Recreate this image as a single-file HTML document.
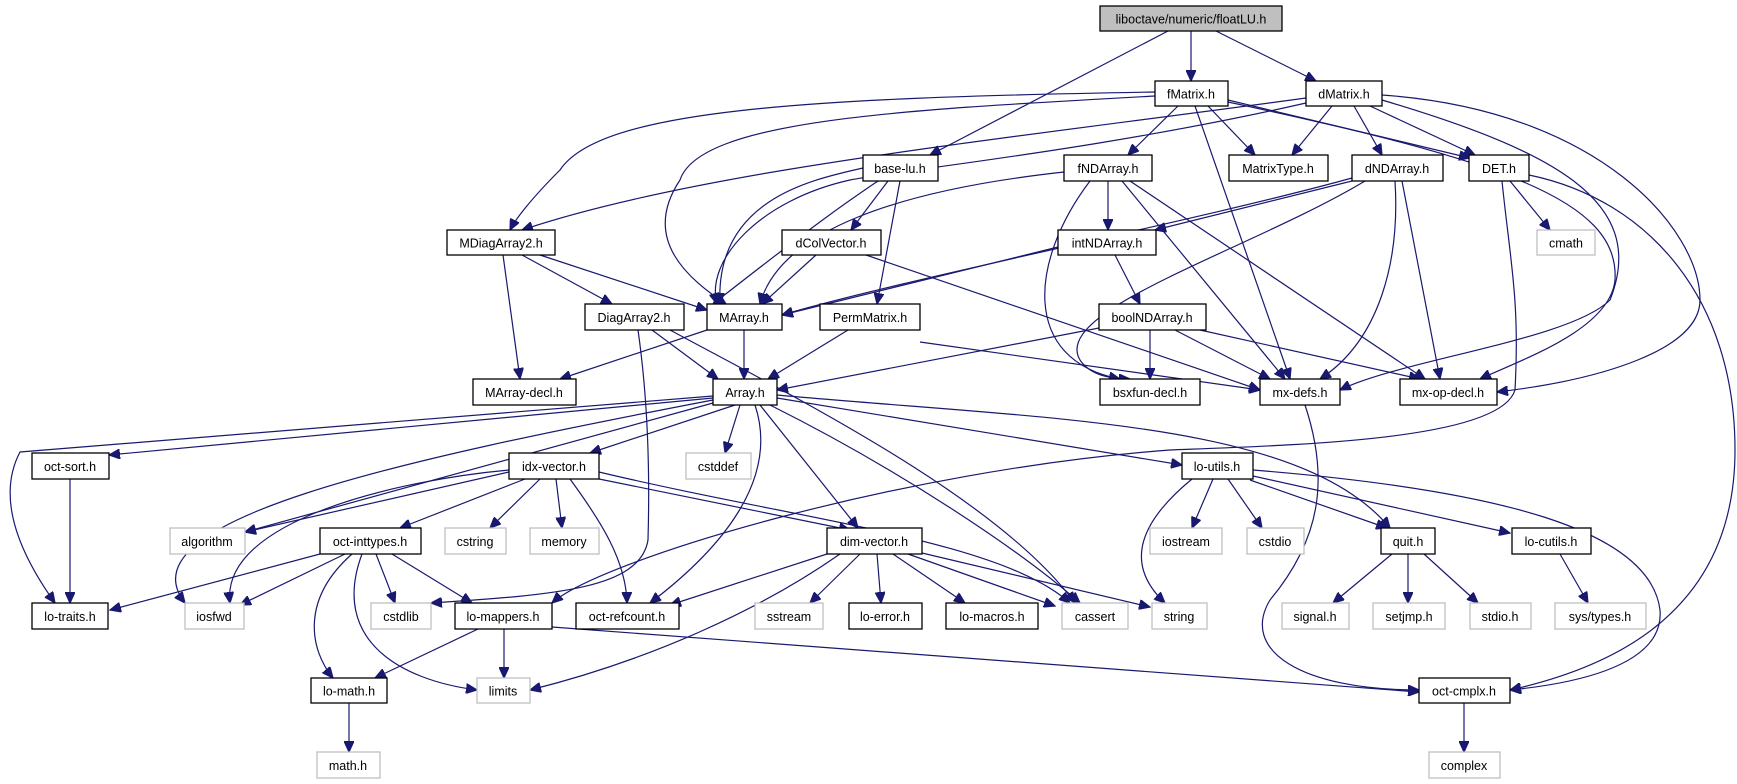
<!DOCTYPE html>
<html><head><meta charset="utf-8"><style>
html,body{margin:0;padding:0;background:#fff;}
svg{display:block;}
text{font-family:"Liberation Sans",sans-serif;font-size:12.5px;text-anchor:middle;fill:#000;}
.b{fill:#fff;stroke:#000;stroke-width:1.3;}
.g{fill:#fff;stroke:#bfbfbf;stroke-width:1.3;}
.r{fill:#bfbfbf;stroke:#000;stroke-width:1.3;}
path{fill:none;stroke:#191970;stroke-width:1.2;marker-end:url(#a);}
</style></head><body>
<svg width="1737" height="784" viewBox="0 0 1737 784" xmlns="http://www.w3.org/2000/svg">
<defs><marker id="a" markerUnits="userSpaceOnUse" markerWidth="12" markerHeight="10" refX="11" refY="5" orient="auto"><path d="M0,0 L11,5 L0,10 Z" style="fill:#191970;stroke:#191970;marker-end:none"/></marker></defs>

<path d="M1168,31 L930,155"/>
<path d="M1191,31 L1191,81"/>
<path d="M1216,31 L1316,81"/>
<path d="M1155,92 C800,98 600,110 560,170 C530,200 515,220 510,230"/>
<path d="M1155,96 C900,110 700,120 680,180 C640,240 690,280 726,304"/>
<path d="M1178,106 L1128,155"/>
<path d="M1208,106 L1255,155"/>
<path d="M1195,106 L1290,379"/>
<path d="M1228,100 L1470,158"/>
<path d="M1228,102 C1500,160 1620,200 1615,280 C1610,330 1520,360 1480,379"/>
<path d="M1306,98 C1000,140 700,170 522,230"/>
<path d="M1306,103 C1100,150 900,170 850,180 C760,200 705,260 717,304"/>
<path d="M1332,106 L1292,155"/>
<path d="M1354,106 L1382,155"/>
<path d="M1370,106 L1475,155"/>
<path d="M1382,95 C1600,110 1700,230 1700,300 C1700,350 1600,380 1497,392"/>
<path d="M1382,100 C1550,150 1650,200 1610,300 C1570,340 1400,360 1340,390"/>
<path d="M863,168 C810,180 715,200 720,304"/>
<path d="M878,181 C850,200 820,220 713,304"/>
<path d="M888,181 L851,230"/>
<path d="M900,181 L877,304"/>
<path d="M1064,172 C900,190 780,230 760,304"/>
<path d="M1108,181 L1108,230"/>
<path d="M1090,181 C1030,260 1020,360 1120,379"/>
<path d="M1122,181 L1285,379"/>
<path d="M1130,181 L1425,379"/>
<path d="M1352,181 L1155,230"/>
<path d="M1352,178 C1200,220 900,280 782,315"/>
<path d="M1365,181 C1250,250 1050,310 1080,360 C1090,375 1110,379 1130,379"/>
<path d="M1395,181 C1400,260 1380,340 1320,379"/>
<path d="M1402,181 L1440,379"/>
<path d="M1510,181 L1550,230"/>
<path d="M1502,181 C1510,260 1520,300 1515,390 C1500,440 1300,445 1170,450 C900,470 600,560 552,603"/>
<path d="M1529,175 C1650,200 1735,300 1735,450 C1735,620 1600,670 1510,690"/>
<path d="M540,255 L707,310"/>
<path d="M522,255 L612,304"/>
<path d="M503,255 L520,379"/>
<path d="M816,255 L762,304"/>
<path d="M866,255 L1260,390"/>
<path d="M1058,247 L782,315"/>
<path d="M1115,255 L1140,304"/>
<path d="M652,330 L718,379"/>
<path d="M670,330 C800,400 1000,500 1075,603"/>
<path d="M638,330 C648,400 650,470 648,540 C640,590 550,595 431,603"/>
<path d="M707,330 L560,379"/>
<path d="M744,330 L744,379"/>
<path d="M848,330 L768,379"/>
<path d="M920,342 L1260,390"/>
<path d="M1099,328 L777,390"/>
<path d="M1150,330 L1150,379"/>
<path d="M1175,330 L1270,379"/>
<path d="M1200,330 L1420,379"/>
<path d="M1305,405 C1330,480 1320,540 1270,600 C1240,650 1300,690 1419,690"/>
<path d="M713,398 L109,455"/>
<path d="M713,396 L20,452 C0,490 10,540 55,603"/>
<path d="M713,400 C400,460 120,520 185,603"/>
<path d="M713,403 L245,532"/>
<path d="M735,405 L590,453"/>
<path d="M740,405 L725,453"/>
<path d="M755,405 C780,480 720,550 650,603"/>
<path d="M760,405 L858,528"/>
<path d="M770,405 C900,470 1020,550 1080,603"/>
<path d="M777,398 L1182,465"/>
<path d="M777,395 C1050,420 1300,420 1390,528"/>
<path d="M509,472 L245,532"/>
<path d="M509,470 C400,480 220,520 230,603"/>
<path d="M525,479 L400,528"/>
<path d="M540,479 L490,528"/>
<path d="M556,479 L562,528"/>
<path d="M570,479 C600,520 626,560 627,603"/>
<path d="M599,479 L850,530"/>
<path d="M599,472 C800,520 1000,540 1070,603"/>
<path d="M320,554 L110,610"/>
<path d="M345,554 L240,605"/>
<path d="M352,554 C300,600 310,650 333,678"/>
<path d="M362,554 C330,640 400,680 477,690"/>
<path d="M376,554 L395,603"/>
<path d="M392,554 L472,603"/>
<path d="M827,554 L670,605"/>
<path d="M840,554 C760,610 650,660 530,690"/>
<path d="M860,554 L810,603"/>
<path d="M877,554 L881,603"/>
<path d="M893,554 L965,603"/>
<path d="M908,554 L1055,606"/>
<path d="M922,553 L1150,607"/>
<path d="M478,629 L375,678"/>
<path d="M504,629 L504,678"/>
<path d="M552,627 L1419,692"/>
<path d="M349,703 L349,752"/>
<path d="M70,479 L70,603"/>
<path d="M1213,479 L1192,528"/>
<path d="M1228,479 L1262,528"/>
<path d="M1250,480 L1387,528"/>
<path d="M1253,476 L1510,533"/>
<path d="M1192,479 C1130,530 1130,570 1165,603"/>
<path d="M1253,470 C1500,490 1650,530 1660,610 C1665,670 1560,685 1510,690"/>
<path d="M1392,554 L1333,603"/>
<path d="M1408,554 L1408,603"/>
<path d="M1424,554 L1478,603"/>
<path d="M1560,554 L1588,603"/>
<path d="M1464,703 L1464,752"/>

<rect class="r" x="1100" y="6" width="182" height="25"/><text x="1191" y="23.5">liboctave/numeric/floatLU.h</text>
<rect class="b" x="1155" y="81" width="73" height="25"/><text x="1191" y="98.5">fMatrix.h</text>
<rect class="b" x="1306" y="81" width="76" height="25"/><text x="1344" y="98.5">dMatrix.h</text>
<rect class="b" x="863" y="155" width="75" height="26"/><text x="900" y="173">base-lu.h</text>
<rect class="b" x="1064" y="155" width="88" height="26"/><text x="1108" y="173">fNDArray.h</text>
<rect class="b" x="1229" y="155" width="99" height="26"/><text x="1278" y="173">MatrixType.h</text>
<rect class="b" x="1352" y="155" width="91" height="26"/><text x="1397" y="173">dNDArray.h</text>
<rect class="b" x="1469" y="155" width="60" height="26"/><text x="1499" y="173">DET.h</text>
<rect class="g" x="1537" y="230" width="58" height="25"/><text x="1566" y="247.5">cmath</text>
<rect class="b" x="1058" y="230" width="98" height="25"/><text x="1107" y="247.5">intNDArray.h</text>
<rect class="b" x="782" y="230" width="99" height="25"/><text x="831" y="247.5">dColVector.h</text>
<rect class="b" x="447" y="230" width="108" height="25"/><text x="501" y="247.5">MDiagArray2.h</text>
<rect class="b" x="585" y="304" width="99" height="26"/><text x="634" y="322">DiagArray2.h</text>
<rect class="b" x="707" y="304" width="75" height="26"/><text x="744" y="322">MArray.h</text>
<rect class="b" x="820" y="304" width="100" height="26"/><text x="870" y="322">PermMatrix.h</text>
<rect class="b" x="1099" y="304" width="107" height="26"/><text x="1152" y="322">boolNDArray.h</text>
<rect class="b" x="473" y="379" width="103" height="26"/><text x="524" y="397">MArray-decl.h</text>
<rect class="b" x="713" y="379" width="64" height="26"/><text x="745" y="397">Array.h</text>
<rect class="b" x="1100" y="379" width="100" height="26"/><text x="1150" y="397">bsxfun-decl.h</text>
<rect class="b" x="1260" y="379" width="80" height="26"/><text x="1300" y="397">mx-defs.h</text>
<rect class="b" x="1400" y="379" width="97" height="26"/><text x="1448" y="397">mx-op-decl.h</text>
<rect class="b" x="32" y="453" width="77" height="26"/><text x="70" y="471">oct-sort.h</text>
<rect class="b" x="509" y="453" width="90" height="26"/><text x="554" y="471">idx-vector.h</text>
<rect class="g" x="686" y="453" width="65" height="26"/><text x="718" y="471">cstddef</text>
<rect class="b" x="1182" y="453" width="71" height="26"/><text x="1217" y="471">lo-utils.h</text>
<rect class="g" x="170" y="528" width="75" height="26"/><text x="207" y="546">algorithm</text>
<rect class="b" x="320" y="528" width="101" height="26"/><text x="370" y="546">oct-inttypes.h</text>
<rect class="g" x="445" y="528" width="61" height="26"/><text x="475" y="546">cstring</text>
<rect class="g" x="530" y="528" width="69" height="26"/><text x="564" y="546">memory</text>
<rect class="b" x="827" y="528" width="95" height="26"/><text x="874" y="546">dim-vector.h</text>
<rect class="g" x="1150" y="528" width="72" height="26"/><text x="1186" y="546">iostream</text>
<rect class="g" x="1247" y="528" width="57" height="26"/><text x="1275" y="546">cstdio</text>
<rect class="b" x="1381" y="528" width="54" height="26"/><text x="1408" y="546">quit.h</text>
<rect class="b" x="1512" y="528" width="79" height="26"/><text x="1551" y="546">lo-cutils.h</text>
<rect class="b" x="32" y="603" width="76" height="26"/><text x="70" y="621">lo-traits.h</text>
<rect class="g" x="185" y="603" width="59" height="26"/><text x="214" y="621">iosfwd</text>
<rect class="g" x="371" y="603" width="60" height="26"/><text x="401" y="621">cstdlib</text>
<rect class="b" x="455" y="603" width="97" height="26"/><text x="503" y="621">lo-mappers.h</text>
<rect class="b" x="576" y="603" width="103" height="26"/><text x="627" y="621">oct-refcount.h</text>
<rect class="g" x="755" y="603" width="68" height="26"/><text x="789" y="621">sstream</text>
<rect class="b" x="849" y="603" width="73" height="26"/><text x="885" y="621">lo-error.h</text>
<rect class="b" x="946" y="603" width="92" height="26"/><text x="992" y="621">lo-macros.h</text>
<rect class="g" x="1062" y="603" width="66" height="26"/><text x="1095" y="621">cassert</text>
<rect class="g" x="1152" y="603" width="55" height="26"/><text x="1179" y="621">string</text>
<rect class="g" x="1282" y="603" width="67" height="26"/><text x="1315" y="621">signal.h</text>
<rect class="g" x="1373" y="603" width="72" height="26"/><text x="1409" y="621">setjmp.h</text>
<rect class="g" x="1470" y="603" width="61" height="26"/><text x="1500" y="621">stdio.h</text>
<rect class="g" x="1555" y="603" width="91" height="26"/><text x="1600" y="621">sys/types.h</text>
<rect class="b" x="311" y="678" width="76" height="25"/><text x="349" y="695.5">lo-math.h</text>
<rect class="g" x="477" y="678" width="53" height="25"/><text x="503" y="695.5">limits</text>
<rect class="b" x="1419" y="678" width="91" height="25"/><text x="1464" y="695.5">oct-cmplx.h</text>
<rect class="g" x="317" y="752" width="63" height="26"/><text x="348" y="770">math.h</text>
<rect class="g" x="1429" y="752" width="71" height="26"/><text x="1464" y="770">complex</text>
</svg>
</body></html>
